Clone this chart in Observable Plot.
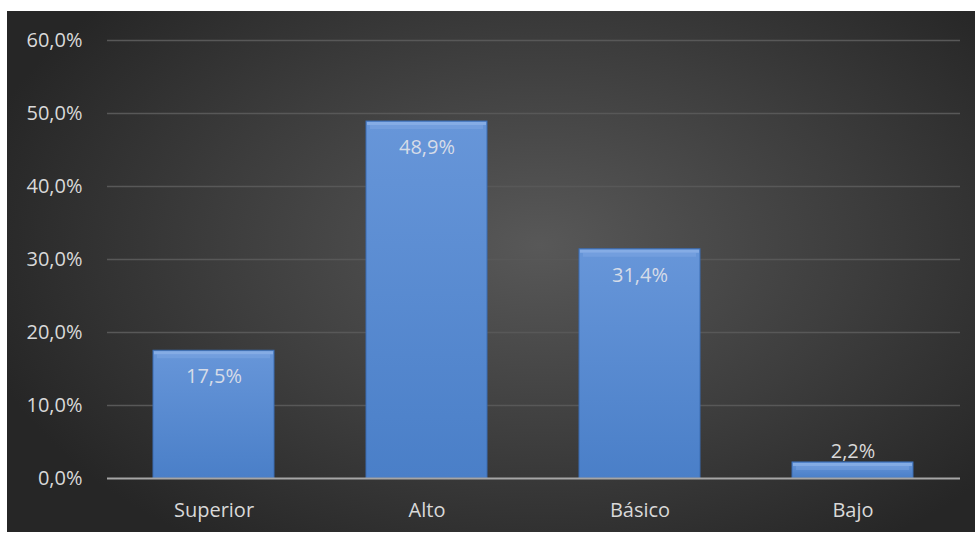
<!DOCTYPE html>
<html>
<head>
<meta charset="utf-8">
<script src="https://cdn.jsdelivr.net/npm/d3@7"></script>
<script src="https://cdn.jsdelivr.net/npm/@observablehq/plot@0.6"></script>
<style>
  html, body { margin: 0; padding: 0; background: #ffffff; }
  #chart {
    position: absolute; left: 7px; top: 11px; width: 968px; height: 521px;
    background: radial-gradient(ellipse 60% 70% at 55% 45%, #585858 0%, #3d3d3d 55%, #262626 100%);
    font-family: "Open Sans", sans-serif;
  }
  #chart svg { background: transparent; }
</style>
</head>
<body>
<div id="chart"></div>
<script>
const categories = ["Superior", "Alto", "Básico", "Bajo"];
const values = [17.5, 48.9, 31.4, 2.2];
const yTicks = [0, 10, 20, 30, 40, 50, 60];

const data = categories.map((c, i) => ({cat: c, v: values[i]}));
const fmt = d => d.toFixed(1).replace(".", ",") + "%";

const plot = Plot.plot({
  width: 968,
  height: 521,
  marginLeft: 100,
  marginRight: 15,
  marginTop: 29,
  marginBottom: 54,
  style: {background: "transparent", fontFamily: "'Open Sans', sans-serif", fontSize: "20px", color: "#d9d9d9"},
  x: {domain: categories, paddingInner: 0.43, paddingOuter: 0.215, label: null},
  y: {domain: [0, 60], label: null},
  marks: [
    Plot.ruleY(yTicks.filter(t => t > 0), {stroke: "#585858", strokeWidth: 1.3}),
    Plot.barY(data, {x: "cat", y: "v", fill: "url(#barGrad)", stroke: "#3a6cb3", strokeWidth: 1, style: "filter: drop-shadow(2px 2px 2px rgba(0,0,0,0.55))"}),
    Plot.tickY(data, {x: "cat", y: "v", stroke: "#9fc0ee", strokeWidth: 3, strokeOpacity: 0.55, dy: 2, inset: 1}),
    Plot.tickY(data, {x: "cat", y: "v", stroke: "#8db4ea", strokeWidth: 4, strokeOpacity: 0.3, dy: 5.5, inset: 4}),
    Plot.ruleY([0], {stroke: "#a6a6a6", strokeWidth: 2}),
    Plot.text(data.filter(d => d.v >= 5), {x: "cat", y: "v", text: d => fmt(d.v), dy: 26, fill: "#d6dce8", fontSize: 20}),
    Plot.text(data.filter(d => d.v < 5), {x: "cat", y: "v", text: d => fmt(d.v), dy: -11, fill: "#d9d9d9", fontSize: 20}),
    Plot.axisY({ticks: yTicks, tickSize: 0, tickPadding: 25, tickFormat: fmt, fill: "#d9d9d9", fontSize: 20}),
    Plot.axisX({tickSize: 0, tickPadding: 24, fill: "#d9d9d9", fontSize: 20})
  ]
});

const defs = d3.select(plot).insert("defs", ":first-child");
const g = defs.append("linearGradient").attr("id", "barGrad").attr("x1", 0).attr("y1", 0).attr("x2", 0).attr("y2", 1);
g.append("stop").attr("offset", "0%").attr("stop-color", "#6796d9");
g.append("stop").attr("offset", "100%").attr("stop-color", "#4a7fc8");

document.getElementById("chart").appendChild(plot);
</script>
</body>
</html>
